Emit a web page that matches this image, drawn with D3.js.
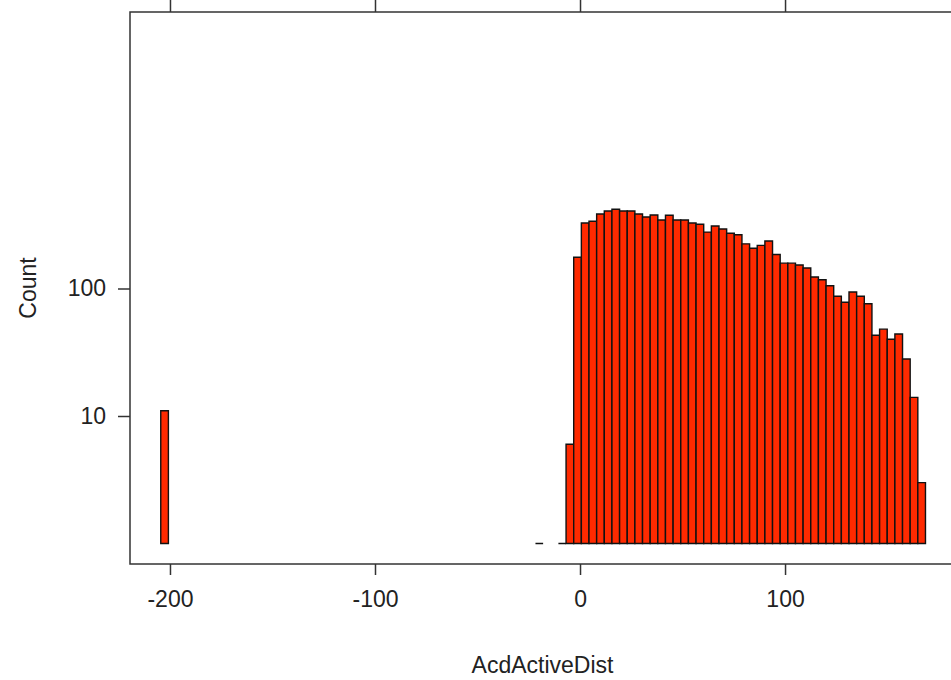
<!DOCTYPE html>
<html>
<head>
<meta charset="utf-8">
<script src="https://cdn.jsdelivr.net/npm/d3@7"></script>
<style>
  body { margin: 0; background: #fff; }
  svg { display: block; font-family: "Liberation Sans", Arial, sans-serif; }
  .axis text { font-size: 23px; fill: #222; }
  .axis line { stroke: #333; stroke-width: 1.5; }
</style>
</head>
<body>
<div id="chart"></div>
<script>
// histogram breaks (like R's seq), 100 bins
const firstBreak = -204.5;
const binWidth = 3.73;
// non-empty bins: index of bin and its count
const binIndex = [0, 49, 52, 53, 54, 55, 56, 57, 58, 59, 60, 61, 62, 63, 64, 65, 66,
  67, 68, 69, 70, 71, 72, 73, 74, 75, 76, 77, 78, 79, 80, 81, 82, 83, 84, 85, 86, 87,
  88, 89, 90, 91, 92, 93, 94, 95, 96, 97, 98, 99];
const counts = [11, 1, 1, 6, 176, 326, 337, 384, 405, 418, 405, 405, 384, 364, 377, 345, 375,
  345, 345, 326, 319, 277, 309, 293, 271, 264, 224, 207, 218, 236, 185, 158, 158, 153, 145, 123, 117, 105,
  87, 78, 94, 87, 76, 43, 48, 40, 44, 28, 14, 3];
const xTicks = [-200, -100, 0, 100];
const yTicks = [10, 100];
const xLabel = "AcdActiveDist";
const yLabel = "Count";

const width = 951, height = 680;
const panel = { left: 130, top: 12, right: 955, bottom: 564 };

const svg = d3.select("#chart").append("svg")
  .attr("width", width)
  .attr("height", height);

const x = d3.scaleLinear()
  .domain([-219.5, 182.9])
  .range([panel.left, panel.right]);

// log scale, 1 sits at the bar baseline
const y = d3.scaleLog()
  .domain([1, 100])
  .range([543.5, 288.5]);

const bars = binIndex.map((b, i) => ({
  x0: firstBreak + b * binWidth,
  x1: firstBreak + (b + 1) * binWidth,
  n: counts[i]
}));

// bars as paths so count==1 (zero height) still draws a line
svg.append("g")
  .selectAll("path")
  .data(bars)
  .join("path")
  .attr("d", d => {
    const xa = x(d.x0), xb = x(d.x1), yb = y(1), yt = y(d.n);
    return `M${xa},${yb}V${yt}H${xb}V${yb}Z`;
  })
  .attr("fill", "#ff2a00")
  .attr("stroke", "#111")
  .attr("stroke-width", 1.4);

// panel box
svg.append("rect")
  .attr("x", panel.left)
  .attr("y", panel.top)
  .attr("width", panel.right - panel.left)
  .attr("height", panel.bottom - panel.top)
  .attr("fill", "none")
  .attr("stroke", "#333")
  .attr("stroke-width", 1.5);

// plain hyphen for negatives, like R
const fmt = d => String(d);

svg.append("g")
  .attr("class", "axis")
  .attr("transform", `translate(0,${panel.bottom})`)
  .call(d3.axisBottom(x).tickValues(xTicks).tickSize(11).tickPadding(16).tickFormat(fmt));

svg.append("g")
  .attr("class", "axis")
  .attr("transform", `translate(0,${panel.top})`)
  .call(d3.axisTop(x).tickValues(xTicks).tickSize(12).tickFormat(""));

svg.append("g")
  .attr("class", "axis")
  .attr("transform", `translate(${panel.left},0)`)
  .call(d3.axisLeft(y).tickValues(yTicks).tickSize(12).tickPadding(12).tickFormat(fmt));

svg.selectAll(".axis .domain").remove();
svg.selectAll(".axis text").attr("fill", "#222");

// axis titles
svg.append("text")
  .attr("x", (panel.left + panel.right) / 2)
  .attr("y", 673)
  .attr("text-anchor", "middle")
  .attr("font-size", 23)
  .attr("fill", "#222")
  .text(xLabel);

svg.append("text")
  .attr("transform", `translate(36,288) rotate(-90)`)
  .attr("text-anchor", "middle")
  .attr("font-size", 23)
  .attr("fill", "#222")
  .text(yLabel);
</script>
</body>
</html>
